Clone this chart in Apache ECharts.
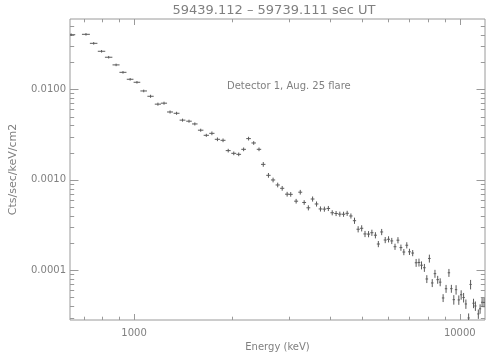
<!DOCTYPE html>
<html><head><meta charset="utf-8">
<script src="https://cdn.jsdelivr.net/npm/echarts@6/dist/echarts.min.js"></script>
<style>html,body{margin:0;padding:0;background:#fff}#c{width:504px;height:360px}</style>
</head><body><div id="c"></div>
<script>
const titleText = '59439.112 \u2013 59739.111 sec UT';
const noteText = 'Detector 1, Aug. 25 flare';
const xName = 'Energy (keV)';
const yName = 'Cts/sec/keV/cm2';

const energy = [641,712,752,795,836,881,925,973,1021,1071,
1124,1184,1236,1290,1351,1409,1475,1537,1602,1667,
1734,1803,1876,1946,2024,2096,2170,2247,2330,2419,
2493,2586,2672,2761,2850,2951,3027,3145,3238,3329,
3429,3533,3633,3735,3840,3949,4059,4171,4282,4397,
4511,4632,4751,4875,4998,5117,5247,5372,5508,5623,
5757,5903,6044,6183,6326,6459,6596,6734,6875,7006,
7168,7345,7494,7630,7786,7921,8065,8230,8390,8554,
8705,8888,9074,9261,9422,9585,9741,9931,10097,10273,
10440,10644,10793,11020,11166,11400,11543,11706,11869];

const energyErr = [19,20,20,21,22,22,23,23,24,25,
25,26,27,27,28,29,29,30,31,31,
32,33,33,34,35,35,36,37,37,38,
39,40,40,41,42,43,43,44,45,45,
46,47,48,48,49,50,51,51,52,53,
54,54,55,56,57,57,58,59,60,60,
61,62,63,63,64,65,66,66,67,68,
69,70,70,71,72,73,73,74,75,76,
76,77,78,79,80,80,81,82,83,83,
84,85,86,87,87,88,89,90,90];

const flux = [0.0401,0.0405,0.0322,0.0263,0.0226,0.0186,0.0154,0.0129,0.01195,0.00958,
0.00837,0.00685,0.00702,0.00561,0.00543,0.00456,0.00444,0.00414,0.00353,0.00310,
0.00326,0.00280,0.00273,0.00210,0.00196,0.00191,0.00217,0.00285,0.00255,0.00217,
0.00148,0.00112,0.000995,0.000876,0.000805,0.000693,0.000690,0.000580,0.000729,0.000561,
0.000490,0.000613,0.000540,0.000476,0.000474,0.000482,0.000432,0.000424,0.000417,0.000416,
0.000426,0.000398,0.000353,0.000284,0.000291,0.000252,0.000251,0.000260,0.000244,0.000195,
0.000265,0.000216,0.000220,0.000211,0.000182,0.000215,0.000178,0.000159,0.000189,0.000160,
0.000155,0.000121,0.000122,0.0001136,0.0001066,0.0000801,0.000135,0.0000724,0.0000917,0.0000787,
0.0000739,0.0000494,0.0000625,0.0000938,0.0000626,0.0000473,0.0000610,0.0000470,0.0000536,0.0000500,
0.0000424,0.0000297,0.0000697,0.0000432,0.0000403,0.0000329,0.0000375,0.0000443,0.0000441];

const fluxErr = [0.0008,0.0008,0.00065,0.00053,0.00045,0.00037,0.00031,0.00026,0.00024,0.0002,
0.00022,0.00018,0.00018,0.000146,0.000141,0.000118,0.000115,0.000108,0.000092,0.000081,
0.000111,0.000095,0.000093,0.000071,0.000067,0.000065,0.000074,0.000097,0.000087,0.000074,
0.00007,0.000053,0.000047,0.000041,0.000038,0.000033,0.000032,0.000027,0.000034,0.000026,
0.0000255,0.0000319,0.0000281,0.0000248,0.0000246,0.0000251,0.0000225,0.000022,0.0000217,0.0000216,
0.0000222,0.0000207,0.0000233,0.0000187,0.0000192,0.0000166,0.0000166,0.0000172,0.0000161,0.0000129,
0.0000175,0.0000143,0.0000145,0.0000139,0.000012,0.0000142,0.0000117,0.0000105,0.0000125,0.0000106,
0.0000102,0.0000106,0.0000107,0.00001,0.0000094,0.000007,0.0000119,0.0000064,0.0000081,0.0000069,
0.0000065,0.0000043,0.0000055,0.0000083,0.0000055,0.0000051,0.0000065,0.000005,0.0000057,0.0000054,
0.0000045,0.0000032,0.0000075,0.0000046,0.0000043,0.0000035,0.000004,0.0000047,0.0000047];

const xRange = [636, 11950];
const yRange = [0.0000282, 0.0598];
const xMajorTicks = [1000, 10000];
const xMinorTicks = [700,800,900,2000,3000,4000,5000,6000,7000,8000,9000];
const yMajorTicks = [0.0001, 0.001, 0.01];
const yMinorTicks = [0.00003,0.00004,0.00005,0.00006,0.00007,0.00008,0.00009,
0.0002,0.0003,0.0004,0.0005,0.0006,0.0007,0.0008,0.0009,
0.002,0.003,0.004,0.005,0.006,0.007,0.008,0.009,
0.02,0.03,0.04,0.05];

const axisColor = '#9a9a9a';
const textColor = '#808080';
const markColor = '#5a5a5a';
const font = 'DejaVu Sans';

const points = energy.map((e, i) => [e, flux[i], energyErr[i], fluxErr[i]]);
const xTickData = xMajorTicks.map(v => [v, yRange[0], 1]).concat(xMinorTicks.map(v => [v, yRange[0], 0]));
const yTickData = yMajorTicks.map(v => [xRange[0], v, 1]).concat(yMinorTicks.map(v => [xRange[0], v, 0]));

const chart = echarts.init(document.getElementById('c'), null, {renderer: 'canvas'});
chart.setOption({
  animation: false,
  backgroundColor: '#fff',
  grid: {left: 62, right: 19, top: 19, bottom: 40, show: true, borderColor: axisColor, borderWidth: 1, backgroundColor: 'transparent'},
  xAxis: {
    type: 'log', logBase: 10, min: xRange[0], max: xRange[1],
    axisLine: {show: false}, axisTick: {show: false}, splitLine: {show: false}, minorTick: {show: false},
    axisLabel: {color: textColor, fontSize: 10, fontFamily: font, margin: 8, showMinLabel: false, showMaxLabel: false,
      formatter: v => String(Math.round(v))},
    name: xName, nameLocation: 'middle', nameGap: 20,
    nameTextStyle: {color: textColor, fontSize: 10, fontFamily: font}
  },
  yAxis: {
    type: 'log', logBase: 10, min: yRange[0], max: yRange[1],
    axisLine: {show: false}, axisTick: {show: false}, splitLine: {show: false}, minorTick: {show: false},
    axisLabel: {color: textColor, fontSize: 10, fontFamily: font, margin: 4, showMinLabel: false, showMaxLabel: false,
      formatter: v => v.toFixed(4)},
    name: yName, nameLocation: 'middle', nameGap: 51,
    nameTextStyle: {color: textColor, fontSize: 11, fontFamily: font}
  },
  graphic: [
    {type: 'text', x: 274, y: 11, style: {text: titleText, fill: textColor, font: '13px "DejaVu Sans"', textAlign: 'center', textVerticalAlign: 'middle'}},
    {type: 'text', x: 227, y: 86, style: {text: noteText, fill: textColor, font: '10px "DejaVu Sans"', textAlign: 'left', textVerticalAlign: 'middle'}}
  ],
  series: [
    {
      type: 'custom', name: 'xticks', clip: false, silent: true, z: 3,
      encode: {x: 0, y: 1},
      data: xTickData,
      renderItem: (params, api) => {
        const p = api.coord([api.value(0), api.value(1)]);
        const cs = params.coordSys;
        const len = api.value(2) ? 6 : 3.3;
        const x = Math.round(p[0]) + 0.5;
        const st = {stroke: axisColor, lineWidth: 1};
        return {type: 'group', children: [
          {type: 'line', shape: {x1: x, y1: cs.y + cs.height, x2: x, y2: cs.y + cs.height - len}, style: st},
          {type: 'line', shape: {x1: x, y1: cs.y, x2: x, y2: cs.y + len}, style: st}
        ]};
      }
    },
    {
      type: 'custom', name: 'yticks', clip: false, silent: true, z: 3,
      encode: {x: 0, y: 1},
      data: yTickData,
      renderItem: (params, api) => {
        const p = api.coord([api.value(0), api.value(1)]);
        const cs = params.coordSys;
        const len = api.value(2) ? 8.5 : 4.2;
        const y = Math.round(p[1]) + 0.5;
        const st = {stroke: axisColor, lineWidth: 1};
        return {type: 'group', children: [
          {type: 'line', shape: {x1: cs.x, y1: y, x2: cs.x + len, y2: y}, style: st},
          {type: 'line', shape: {x1: cs.x + cs.width, y1: y, x2: cs.x + cs.width - len, y2: y}, style: st}
        ]};
      }
    },
    {
      type: 'custom', name: 'spectrum', clip: true, silent: true, z: 4,
      encode: {x: 0, y: 1},
      data: points,
      renderItem: (params, api) => {
        const e = api.value(0), f = api.value(1), de = api.value(2), df = api.value(3);
        const l = api.coord([e - de, f]);
        const r = api.coord([e + de, f]);
        const t = api.coord([e, f + df]);
        const b = api.coord([e, f - df]);
        const st = {stroke: markColor, lineWidth: 1};
        return {type: 'group', children: [
          {type: 'line', shape: {x1: l[0], y1: l[1], x2: r[0], y2: r[1]}, style: st},
          {type: 'line', shape: {x1: t[0], y1: t[1] - 0.5, x2: b[0], y2: b[1] + 0.5}, style: st}
        ]};
      }
    }
  ]
});
</script>
</body></html>
